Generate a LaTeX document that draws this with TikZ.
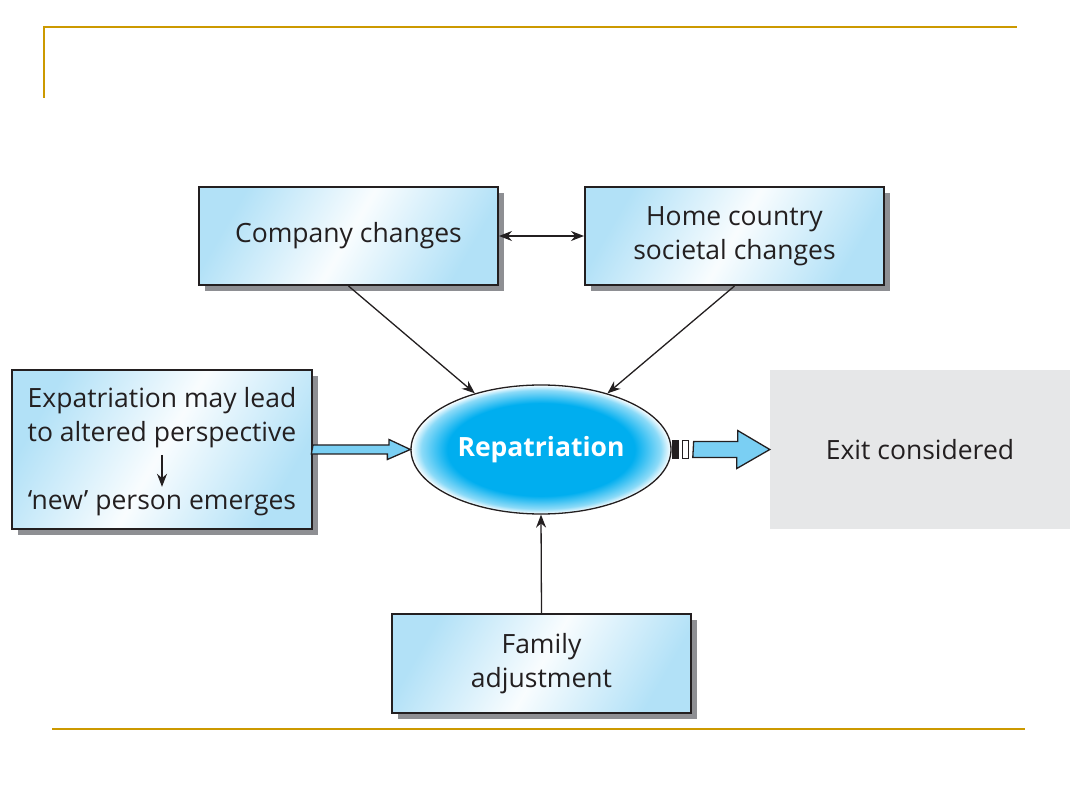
\documentclass[tikz,border=0pt]{standalone}
\usepackage{fontspec}
\setmainfont{Open Sans}
\usepackage{tikz}
\usetikzlibrary{arrows.meta,calc,positioning,shapes.geometric,shadows}
\definecolor{ink}{HTML}{231F20}
\definecolor{gold}{HTML}{CC9900}
\definecolor{boxblue}{HTML}{B2E1F7}
\definecolor{repblue}{HTML}{00AEEF}
\definecolor{arrblue}{HTML}{7ACFF3}
\definecolor{shade}{HTML}{8E8F93}
\definecolor{exitgray}{HTML}{E6E7E8}
\pgfdeclareradialshading{repshade}{\pgfpoint{0bp}{0bp}}{%
  color(0bp)=(repblue); color(18bp)=(repblue); color(23bp)=(repblue!45);
  color(25bp)=(white); color(50bp)=(white)}
\tikzset{
  >={Stealth[length=13pt,width=10pt]},
  every node/.style={font=\fontsize{26.5}{34}\selectfont,text=ink},
  box/.style={draw=ink,line width=2pt,left color=boxblue,right color=boxblue,
    middle color=white!92!boxblue,shading angle=60,align=center,
    minimum width=299pt,inner sep=0pt,
    drop shadow={shadow xshift=6pt,shadow yshift=-6pt,fill=shade,opacity=1}},
  link/.style={draw=ink,line width=1.3pt,->},
  fatarrow/.style={draw=ink,line width=1.3pt,fill=arrblue,line join=miter},
  rule/.style={draw=gold,line width=2.6pt},
}
\begin{document}
\begin{tikzpicture}[x=1pt,y=-1pt]
  \useasboundingbox (0,0) rectangle (1080,810);
  % frame lines
  \draw[rule] (44,98) -- (44,27) -- (1017,27);
  \draw[rule] (52,729) -- (1025,729);
  % boxes
  \node[box,minimum height=98pt] (company) at (348.5,236) {Company changes};
  \node[box,minimum height=98pt] (home) at (734.5,236) {Home country\\societal changes};
  \node[box,minimum width=300pt,minimum height=159pt] (expat) at (162,449.5) {};
  \node (exptop) at (162,418) [align=center] {Expatriation may lead\\to altered perspective};
  \node (expbot) at (162,503) {‘new’ person emerges};
  \node[box,minimum height=99pt] (family) at (541.5,663.5) {Family\\adjustment};
  \node[fill=exitgray,minimum width=300pt,minimum height=159pt] (exit) at (920,449.5) {Exit considered};
  \node[ellipse,draw=ink,line width=1.3pt,shading=repshade,minimum width=260pt,
    minimum height=129pt,inner sep=0pt,text=white,font=\fontsize{26.5}{32}\selectfont\bfseries]
    (rep) at (541,449.5) {Repatriation};
  % connectors
  \draw[link,<->] (company.east) -- (home.west);
  \draw[link] (company.south) -- (rep);
  \draw[link] (home.south) -- (rep);
  \draw[link] (family.north) -- (rep.south);
  \draw[ink,line width=1.6pt,->,shorten <=3pt] (exptop.south) -- (expbot.north);
  \draw[fatarrow] ($(expat.east)+(0,-4.5)$) -- ++(76,0) -- ++(0,-5.5) -- (rep.west)
    -- ++(-23,10) -- ++(0,-5.5) -- ++(-76,0) -- cycle;
  \fill[ink] ($(rep.east)+(0,-9.5)$) rectangle ++(7,19);
  \draw[ink,fill=white,line width=1.2pt] ($(rep.east)+(11,-9)$) rectangle ++(6,18);
  \draw[fatarrow] ($(rep.east)+(22,-8)$) -- ++(44,0) -- ++(0,-11) -- (exit.west)
    -- ++(-33,19) -- ++(0,-11) -- ++(-44,0) -- cycle;
\end{tikzpicture}
\end{document}
